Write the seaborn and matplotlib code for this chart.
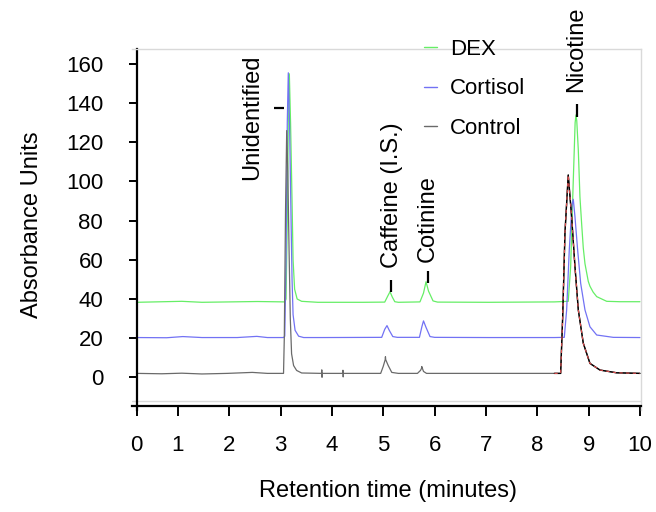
import pandas as pd
import seaborn as sns
import matplotlib.pyplot as plt
from matplotlib.lines import Line2D

# chromatogram traces (time in minutes, absorbance units)
control_t = [0.2, 0.685, 1.077, 1.47, 1.96, 2.45, 2.744, 3.058,
             3.073, 3.097, 3.12, 3.141, 3.166, 3.19, 3.215, 3.254, 3.313, 3.411,
             3.798, 3.803, 3.808, 3.813, 4.21, 4.215, 4.22, 4.225,
             4.95, 4.999, 5.038, 5.043, 5.048, 5.097, 5.166, 5.294,
             5.666, 5.725, 5.745, 5.75, 5.784, 5.843,
             6.568, 7.549, 8.333, 8.455, 8.495, 8.539, 8.603, 8.669, 8.734, 8.799,
             8.896, 9.026, 9.221, 9.546, 10.0]
control_v = [2.0, 1.8, 2.1, 1.7, 2.0, 2.5, 2.0, 2.0,
             20, 85, 126, 105, 65, 30, 12, 6, 3.5, 2.2,
             2.0, 3.8, 0.0, 2.0, 2.0, 3.6, 0.2, 2.0,
             2.0, 5.5, 9.0, 10.5, 9.0, 6.0, 2.5, 2.0,
             2.0, 3.5, 4.5, 5.5, 3.0, 2.0,
             2.0, 2.0, 2.0, 2.0, 31, 73.7, 103.3, 82, 56.5, 34.4,
             17.4, 7.1, 3.7, 2.3, 2.0]

cortisol_t = [0.2, 0.783, 1.097, 1.47, 2.156, 2.538, 2.744, 3.058,
              3.082, 3.107, 3.131, 3.151, 3.175, 3.205, 3.224, 3.244, 3.283, 3.352, 3.45,
              3.823, 4.97, 5.029, 5.073, 5.117, 5.186, 5.274,
              5.705, 5.754, 5.784, 5.833, 5.911, 6.0,
              7.058, 8.333, 8.526, 8.572, 8.623, 8.676, 8.701, 8.734, 8.786, 8.845,
              8.929, 9.026, 9.157, 9.48, 10.0]
cortisol_v = [20.3, 20.2, 20.8, 20.3, 20.3, 20.9, 20.3, 20.3,
              21, 60, 130, 155.5, 130, 80, 50, 32, 24, 21, 20.3,
              20.3, 20.4, 24.5, 26.4, 24, 20.8, 20.4,
              20.4, 26, 28.8, 25.5, 20.8, 20.4,
              20.3, 20.3, 20.4, 34.4, 65, 88, 90.9, 82, 65, 48,
              34.4, 25.8, 21.6, 20.4, 20.3]

dex_t = [0.2, 1.077, 1.47, 2.548, 3.087,
         3.107, 3.131, 3.151, 3.171, 3.195, 3.224, 3.244, 3.274, 3.323, 3.411,
         3.725, 4.607, 5.029, 5.088, 5.132, 5.176, 5.225, 5.294,
         5.715, 5.784, 5.833, 5.882, 5.97, 6.058,
         7.058, 8.333, 8.603, 8.65, 8.689, 8.72, 8.737, 8.754, 8.769, 8.799,
         8.831, 8.865, 8.896, 8.929, 8.993, 9.026, 9.088, 9.157, 9.352, 9.608, 10.0]
dex_v = [38.3, 38.8, 38.3, 38.7, 38.5,
         40, 80, 130, 155, 130, 90, 60, 45, 40, 38.8,
         38.3, 38.3, 38.4, 41.5, 43.7, 41, 38.6, 38.3,
         38.5, 43, 48.8, 44, 39, 38.4,
         38.3, 38.5, 38.8, 56.5, 90.6, 116, 130, 134, 131, 116,
         92, 78, 66, 58, 49, 46.5, 43.5, 41.2, 38.8, 38.6, 38.6]

# peak labels: name, x, bottom of text, marker position
peak_names = ['Unidentified', 'Caffeine (I.S.)', 'Cotinine', 'Nicotine']
label_t = [2.44, 5.166, 5.872, 8.755]
label_v = [100.8, 55.8, 58.9, 145.9]
mark_t = [2.97, 5.147, 5.862, 8.764]
mark_lo = [137.7, 43.8, 48.3, 133.0]
mark_hi = [137.7, 49.7, 54.3, 139.4]

# the original axis starts a little after t=0, with its "0" label at the y axis
x_origin = 0.195
x_ticks = [x_origin, 1, 2, 3, 4, 5, 6, 7, 8, 9, 10]
x_labels = ['0', '1', '2', '3', '4', '5', '6', '7', '8', '9', '10']

samples = ['DEX', 'Cortisol', 'Control']
colors = {'DEX': '#66ee66', 'Cortisol': '#7272f4', 'Control': '#6a6a6a'}

df = pd.concat([
    pd.DataFrame({'time': dex_t, 'abs': dex_v, 'sample': 'DEX'}),
    pd.DataFrame({'time': cortisol_t, 'abs': cortisol_v, 'sample': 'Cortisol'}),
    pd.DataFrame({'time': control_t, 'abs': control_v, 'sample': 'Control'}),
])

sns.set_theme(style="white")
plt.rcParams['font.family'] = ['Liberation Sans', 'DejaVu Sans']
plt.rcParams.update({'text.color': 'black', 'axes.labelcolor': 'black',
                     'xtick.color': 'black', 'ytick.color': 'black'})

fig = plt.figure(figsize=(6.56, 5.12), dpi=100)
ax = fig.add_axes([132 / 656, 1 - 410 / 512, 509 / 656, (410 - 49.3) / 512])

sns.lineplot(data=df, x='time', y='abs', hue='sample', palette=colors,
             estimator=None, sort=False, linewidth=0.9, legend=False, ax=ax)

# nicotine region of the control overlaid in black with a red dashed copy
nic = df[(df['sample'] == 'Control') & (df['time'] >= 8.3)]
ax.plot(nic['time'], nic['abs'], color='black', lw=1.0)
ax.plot(nic['time'], nic['abs'], color='#e05050', lw=0.8, ls=(0, (3, 3)))

for name, tx, ty, mt, lo, hi in zip(peak_names, label_t, label_v, mark_t, mark_lo, mark_hi):
    ax.text(tx, ty, name, rotation=90, ha='center', va='bottom', fontsize=17, color='black')
    if lo == hi:
        ax.hlines(lo, mt - 0.1, mt + 0.1, color='black', lw=1.6)
    else:
        ax.vlines(mt, lo, hi, color='black', lw=1.6)

ax.set_xlim(0.107, 10.02)
ax.set_ylim(-16.7, 167.5)
ax.set_xticks(x_ticks, x_labels)
ax.set_yticks(range(0, 161, 20))

for side in ['top', 'right']:
    ax.spines[side].set_color('#d9d9d9')
    ax.spines[side].set_linewidth(1.0)
for side in ['left', 'bottom']:
    ax.spines[side].set_color('black')
    ax.spines[side].set_linewidth(1.6)
ax.spines['left'].set_position(('data', x_origin))
ax.spines['bottom'].set_position(('data', -14.6))
ax.axhline(-12.3, color='#d9d9d9', lw=1.0)

ax.tick_params(axis='x', direction='out', length=7, width=1.4, color='black',
               pad=14, labelsize=16, labelcolor='black', bottom=True)
ax.tick_params(axis='y', direction='out', length=6, width=1.4, color='black',
               pad=18, labelsize=16, labelcolor='black', left=True)

ax.set_xlabel('Retention time (minutes)', fontsize=17, color='black')
ax.set_ylabel('Absorbance Units', fontsize=17, color='black')
ax.xaxis.set_label_coords(0.503, -0.194)
ax.yaxis.set_label_coords(-0.175, 0.513)

handles = [Line2D([0], [0], color=colors[s], lw=1.0) for s in samples]
leg = ax.legend(handles, samples, loc='upper left', bbox_to_anchor=(413 / 656, 1 - 28 / 512),
                bbox_transform=fig.transFigure, frameon=False, borderpad=0,
                handlelength=0.6, handletextpad=0.55, labelspacing=0.82, fontsize=16)
for txt in leg.get_texts():
    txt.set_color('black')

fig.savefig('out.png', dpi=100)
